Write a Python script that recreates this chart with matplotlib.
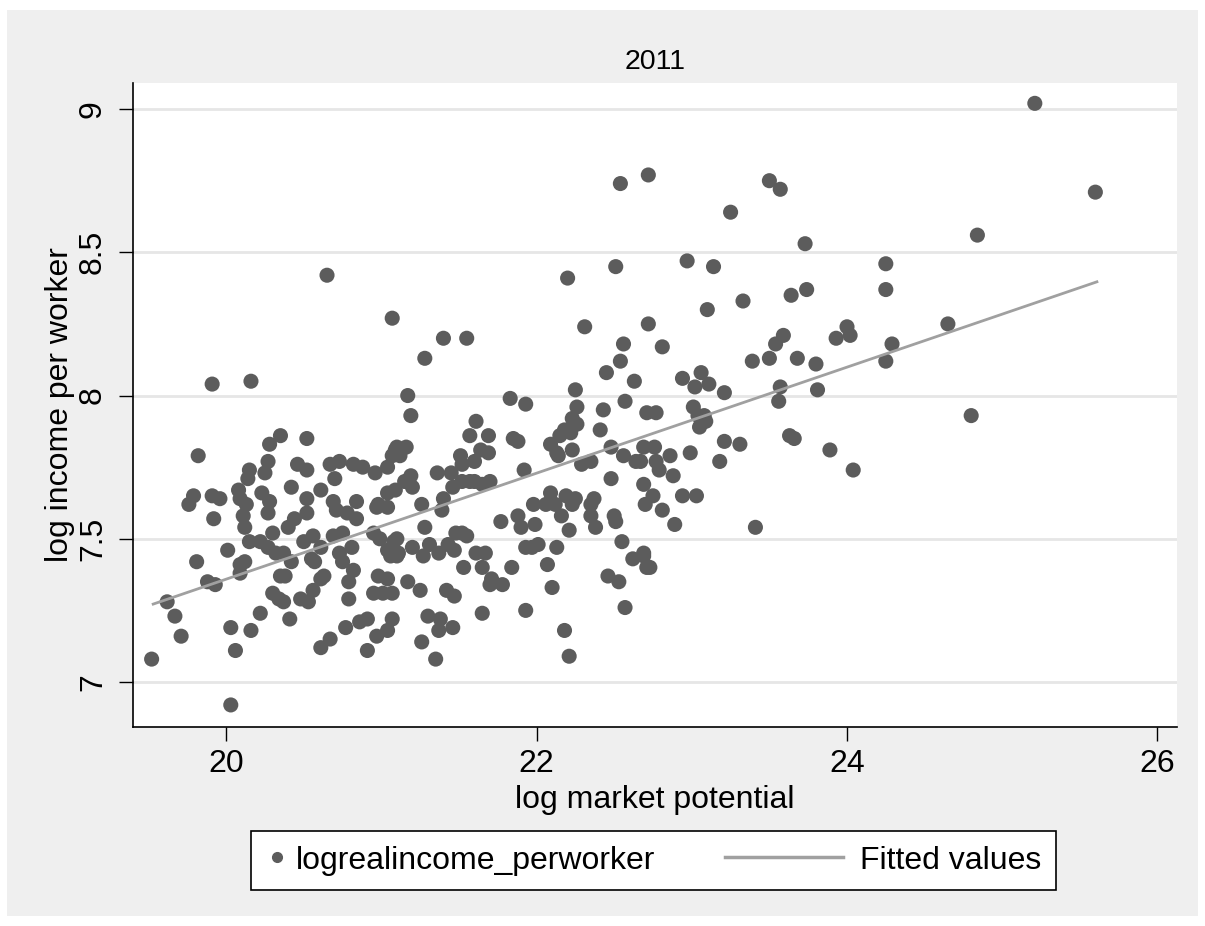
import matplotlib
matplotlib.use('Agg')
import matplotlib.pyplot as plt
from matplotlib.patches import Rectangle
from matplotlib.lines import Line2D
from matplotlib.legend_handler import HandlerLine2D

plt.rcParams['font.family'] = ['Liberation Sans', 'DejaVu Sans']

mp = [
    19.52, 19.62, 19.67, 19.71, 19.76, 19.79, 19.81, 19.82, 19.88, 19.93, 19.91, 19.91, 19.96, 19.92, 20.01, 20.03, 20.06, 20.03,
    20.08, 20.09, 20.13, 20.09, 20.12, 20.09, 20.14, 20.15, 20.16, 20.15, 20.16, 20.22, 20.27, 20.22, 20.23, 20.28, 20.25, 20.27,
    20.28, 20.35, 20.30, 20.35, 20.38, 20.30, 20.34, 20.37, 20.41, 20.40, 20.44, 20.37, 20.42, 20.42, 20.46, 20.11, 20.12, 20.27, 20.32,
    20.52, 20.52, 20.52, 20.50, 20.52, 20.48, 20.53, 20.56, 20.61, 20.56, 20.61, 20.63, 20.61, 20.67, 20.61, 20.67, 20.73, 20.70,
    20.69, 20.65, 20.77, 20.79, 20.79, 20.69, 20.75, 20.73, 20.75, 20.81, 20.82, 20.82, 20.84, 20.88, 20.86, 20.91, 20.91, 20.95,
    21.01, 21.07, 20.98, 21.04, 20.97, 21.04, 21.07, 20.95, 20.99, 21.04, 21.08, 21.10, 20.96, 21.04, 21.09, 20.98, 21.04, 21.09,
    21.07, 20.71, 20.78, 20.84, 20.97, 21.04, 20.55, 20.57,
    21.40, 21.55, 21.28, 22.31, 22.56, 22.54, 22.45, 22.63, 22.57, 22.25, 22.26, 22.23, 22.26, 22.18, 22.15, 22.22, 22.09, 22.13,
    22.14, 22.23, 22.29, 22.35, 22.41, 22.43, 22.48, 22.56, 22.64, 22.48, 22.37, 21.17, 21.19, 21.10, 21.16, 21.07, 21.12, 21.19,
    21.20, 21.15, 21.26, 21.36, 21.45, 21.51, 21.52, 21.57, 21.61, 21.69, 21.64, 21.69, 21.60, 21.83, 21.93, 21.85, 21.88, 21.92,
    21.46, 21.52, 21.57, 21.60, 21.65, 21.70, 21.40, 22.09, 22.19, 22.25,
    21.39, 21.28, 21.10, 21.11, 21.06, 21.20, 21.27, 21.31, 21.37, 21.43, 21.48, 21.52, 21.55, 21.47, 21.53, 21.61, 21.67, 21.65,
    21.70, 21.78, 21.71, 21.84, 21.77, 21.88, 21.90, 21.99, 21.93, 21.97, 22.01, 22.13, 22.07, 22.10, 22.16, 22.21, 21.98, 22.06,
    22.12, 22.23, 22.35, 22.35, 22.38, 22.50, 22.51, 21.65, 21.93, 22.18, 22.21, 22.55, 22.62, 22.69, 22.71, 22.46, 22.53, 22.57,
    21.30, 21.38, 21.37, 21.46, 21.26, 21.35, 21.17, 21.25, 21.42, 21.47,
    22.20, 22.51, 22.54,
    22.72, 23.50, 23.57, 23.25, 23.73, 22.97, 23.14, 24.25, 24.25, 23.74, 23.64, 23.33, 23.10, 22.72, 22.81, 23.59, 23.54, 24.00,
    24.02, 23.93, 24.29, 24.25, 23.50, 23.68, 23.80, 23.39, 22.94, 23.06, 23.02, 23.11, 23.21, 23.57, 23.56, 23.81,
    22.71, 22.77, 23.01, 23.04, 23.08, 23.09, 23.05, 23.21, 23.31, 23.18, 22.99, 23.63, 23.66, 23.89, 24.04, 22.69, 22.76, 22.67,
    22.77, 22.79, 22.86, 22.88, 22.69, 22.75, 22.70, 22.81, 22.94, 23.03, 22.89, 23.41, 22.69, 22.73,
    25.21, 25.60, 24.84, 24.65, 24.80,
]
income = [
    7.08, 7.28, 7.23, 7.16, 7.62, 7.65, 7.42, 7.79, 7.35, 7.34, 8.04, 7.65, 7.64, 7.57, 7.46, 7.19, 7.11, 6.92,
    7.67, 7.64, 7.62, 7.41, 7.42, 7.38, 7.71, 7.74, 8.05, 7.49, 7.18, 7.49, 7.47, 7.24, 7.66, 7.63, 7.73, 7.77,
    7.83, 7.86, 7.52, 7.37, 7.37, 7.31, 7.29, 7.28, 7.22, 7.54, 7.57, 7.45, 7.42, 7.68, 7.76, 7.58, 7.54, 7.59, 7.45,
    7.85, 7.74, 7.64, 7.49, 7.59, 7.29, 7.28, 7.51, 7.47, 7.32, 7.36, 7.37, 7.12, 7.15, 7.67, 7.76, 7.77, 7.71,
    7.63, 8.42, 7.19, 7.29, 7.35, 7.51, 7.52, 7.45, 7.42, 7.47, 7.39, 7.76, 7.63, 7.75, 7.21, 7.22, 7.11, 7.31,
    7.31, 7.31, 7.37, 7.36, 7.16, 7.18, 7.22, 7.52, 7.50, 7.46, 7.49, 7.44, 7.73, 7.75, 7.81, 7.62, 7.66, 7.67,
    8.27, 7.60, 7.59, 7.57, 7.61, 7.61, 7.43, 7.42,
    8.20, 8.20, 8.13, 8.24, 8.18, 8.12, 8.08, 8.05, 7.98, 8.02, 7.96, 7.92, 7.90, 7.88, 7.86, 7.87, 7.83, 7.80,
    7.79, 7.81, 7.76, 7.77, 7.88, 7.95, 7.82, 7.79, 7.77, 7.71, 7.64, 8.00, 7.93, 7.82, 7.82, 7.79, 7.79, 7.72,
    7.68, 7.70, 7.62, 7.73, 7.73, 7.79, 7.76, 7.86, 7.91, 7.86, 7.81, 7.80, 7.77, 7.99, 7.97, 7.85, 7.84, 7.74,
    7.68, 7.70, 7.70, 7.70, 7.69, 7.70, 7.64, 7.66, 7.65, 7.64,
    7.60, 7.54, 7.50, 7.45, 7.44, 7.47, 7.44, 7.48, 7.45, 7.48, 7.52, 7.52, 7.51, 7.46, 7.40, 7.45, 7.45, 7.40,
    7.34, 7.34, 7.36, 7.40, 7.56, 7.58, 7.54, 7.55, 7.47, 7.47, 7.48, 7.47, 7.41, 7.33, 7.58, 7.53, 7.62, 7.62,
    7.62, 7.62, 7.62, 7.58, 7.54, 7.58, 7.56, 7.24, 7.25, 7.18, 7.09, 7.49, 7.43, 7.45, 7.40, 7.37, 7.35, 7.26,
    7.23, 7.22, 7.18, 7.19, 7.14, 7.08, 7.35, 7.32, 7.32, 7.30,
    8.41, 8.45, 8.74,
    8.77, 8.75, 8.72, 8.64, 8.53, 8.47, 8.45, 8.46, 8.37, 8.37, 8.35, 8.33, 8.30, 8.25, 8.17, 8.21, 8.18, 8.24,
    8.21, 8.20, 8.18, 8.12, 8.13, 8.13, 8.11, 8.12, 8.06, 8.08, 8.03, 8.04, 8.01, 8.03, 7.98, 8.02,
    7.94, 7.94, 7.96, 7.93, 7.93, 7.91, 7.89, 7.84, 7.83, 7.77, 7.80, 7.86, 7.85, 7.81, 7.74, 7.82, 7.82, 7.77,
    7.77, 7.74, 7.79, 7.72, 7.69, 7.65, 7.62, 7.60, 7.65, 7.65, 7.55, 7.54, 7.44, 7.40,
    9.02, 8.71, 8.56, 8.25, 7.93,
]

# fitted line end points
fit_x = [19.53, 25.61]
fit_y = [7.272, 8.397]

x_ticks = [20, 22, 24, 26]
y_ticks = [7, 7.5, 8, 8.5, 9]
y_ticklabels = ['7', '7.5', '8', '8.5', '9']

W, H = 1205, 926
fig = plt.figure(figsize=(W / 100, H / 100), dpi=100)
fig.patch.set_facecolor('white')
fig.patches.append(Rectangle((7 / W, 1 - 916 / H), (1198 - 7) / W, (916 - 10) / H,
                             transform=fig.transFigure, facecolor='#efefef',
                             edgecolor='none', zorder=-1))

ax = fig.add_axes([133 / W, 1 - 727 / H, (1177 - 133) / W, (727 - 83) / H])
ax.set_zorder(1)
ax.set_facecolor('white')

ax.scatter(mp, income, s=118, color='#5c5c5c', edgecolors='none', zorder=3)
ax.plot(fit_x, fit_y, color='#a0a0a0', lw=2.0, zorder=4)

ax.set_xlim(19.40, 26.126)
ax.set_ylim(6.843, 9.091)
ax.set_xticks(x_ticks)
ax.set_yticks(y_ticks)
ax.set_yticklabels(y_ticklabels, rotation=90, va='center')
ax.tick_params(axis='both', direction='out', length=10, width=1, labelsize=23, color='black')
ax.tick_params(axis='x', pad=6)
ax.tick_params(axis='y', pad=8)

ax.grid(axis='y', color='#e6e6e6', lw=2)
ax.set_axisbelow(True)
for side in ['top', 'right']:
    ax.spines[side].set_visible(False)
for side in ['left', 'bottom']:
    ax.spines[side].set_linewidth(1.2)
    ax.spines[side].set_color('black')

ax.set_title('2011', fontsize=20.5, pad=10)
ax.set_xlabel('log market potential', fontsize=23, labelpad=4)
ax.set_ylabel('log income per worker', fontsize=23, labelpad=2)


class LongLine(HandlerLine2D):
    def create_artists(self, legend, orig_handle, xdescent, ydescent,
                       width, height, fontsize, trans):
        extra = 3.3 * fontsize
        return super().create_artists(legend, orig_handle, xdescent + extra, ydescent,
                                      width + extra - 0.3 * fontsize, height, fontsize, trans)


dot = Line2D([], [], marker='o', ls='none', color='#5c5c5c', markersize=7)
fit_line = Line2D([], [], color='#a0a0a0', lw=2.5)
fig.legend([dot, fit_line], ['logrealincome_perworker', 'Fitted values'],
           handler_map={fit_line: LongLine()},
           loc='lower left', bbox_to_anchor=(251 / W, 1 - 890 / H, (1056 - 251) / W, 62 / H),
           mode='expand', ncol=2, fontsize=23, frameon=True, fancybox=False,
           edgecolor='black', facecolor='white', framealpha=1,
           borderpad=0.45, handlelength=0.7, handletextpad=0.25, borderaxespad=0)
fig.legends[0].get_frame().set_linewidth(1.2)

fig.savefig('out.png', dpi=100)
